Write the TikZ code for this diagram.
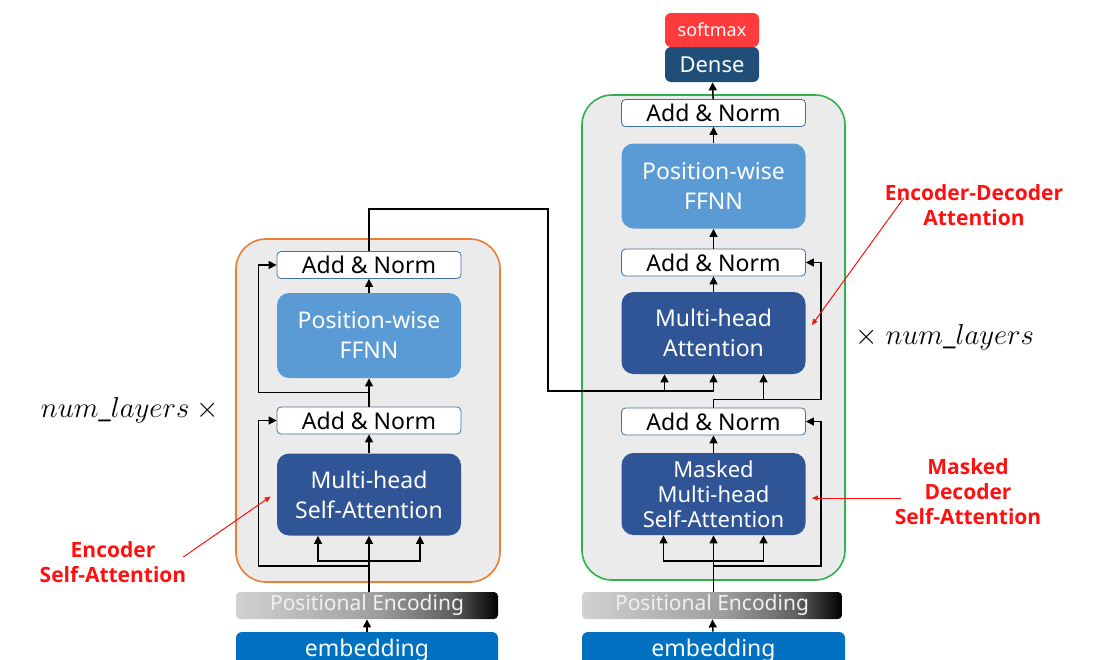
\documentclass[tikz,border=0pt]{standalone}
\usepackage{fontspec}
\setmainfont{Noto Sans}
\newfontfamily\notefont{Open Sans}
\usepackage{tikz}
\usetikzlibrary{arrows.meta,calc}
\definecolor{layergray}{HTML}{EBEBEB}
\definecolor{encorange}{HTML}{ED7D31}
\definecolor{decgreen}{HTML}{2EB24E}
\definecolor{normedge}{HTML}{41719C}
\definecolor{ffnnblue}{HTML}{5B9BD5}
\definecolor{attnblue}{HTML}{2F5597}
\definecolor{denseblue}{HTML}{1F4E79}
\definecolor{softred}{HTML}{FF3B3B}
\definecolor{embblue}{HTML}{0070C0}
\definecolor{notered}{HTML}{FF1010}
\pgfdeclarehorizontalshading{pegrad}{100bp}{color(0bp)=(black!18); color(25bp)=(black!18); color(52bp)=(black!38); color(66bp)=(black!62); color(75bp)=(black); color(100bp)=(black)}

\begin{document}
\begin{tikzpicture}[x=0.5pt, y=-0.5pt, >={Triangle[length=4pt,width=4pt]}]
\tikzstyle{layerbox}=[rounded corners=15pt, fill=layergray, line width=0.8pt, inner sep=0pt]
\tikzstyle{addnorm}=[draw=normedge, fill=white, rounded corners=2pt, minimum width=92pt, minimum height=13.5pt, inner sep=0pt, font=\fontsize{11.5}{13}\selectfont]
\tikzstyle{ffnn}=[fill=ffnnblue, text=white, rounded corners=6pt, minimum width=92pt, minimum height=42.5pt, inner sep=0pt, align=center, font=\fontsize{11.5}{15}\selectfont]
\tikzstyle{attn}=[ffnn, fill=attnblue, minimum height=41pt]
\tikzstyle{posenc}=[shading=pegrad, text=white!94!black, rounded corners=2pt, minimum height=13.5pt, inner sep=0pt, font=\fontsize{10.5}{12}\selectfont]
\tikzstyle{embed}=[fill=embblue, text=white, rounded corners=3pt, minimum height=19pt, inner sep=0pt, font=\fontsize{11.5}{13}\selectfont]
\tikzstyle{flow}=[->, line width=0.75pt]
\tikzstyle{note}=[text=notered, font=\notefont\bfseries\fontsize{10.5}{12.5}\selectfont, align=center]
\tikzstyle{pointer}=[-{Triangle[length=3pt,width=2.5pt]}, draw=notered, line width=0.5pt]
\clip (0,0) rectangle (1096,659);

% encoder
\node[layerbox, draw=encorange, minimum width=132pt, minimum height=171.5pt] (enc) at (368,410.5) {};
\node[addnorm] (encan2) at (369,265) {Add \& Norm};
\node[ffnn] (encffnn) at (369,335.5) {Position-wise\\FFNN};
\node[addnorm] (encan1) at (369,420.5) {Add \& Norm};
\node[attn] (encmha) at (369,494.5) {Multi-head\\Self-Attention};
\node[posenc, minimum width=131pt] (encpe) at (367,605.5) {Positional Encoding};
\node[embed, minimum width=131pt] (encemb) at (367,651) {embedding};

% decoder
\node[layerbox, draw=decgreen, minimum width=131.5pt, minimum height=242.5pt] (dec) at (713.5,337.5) {};
\node[addnorm] (decan3) at (713.5,113) {Add \& Norm};
\node[ffnn] (decffnn) at (713.5,186) {Position-wise\\FFNN};
\node[addnorm] (decan2) at (713.5,262.5) {Add \& Norm};
\node[attn] (decmha) at (713.5,333) {Multi-head\\Attention};
\node[addnorm] (decan1) at (713.5,421.5) {Add \& Norm};
\node[attn, font=\fontsize{11}{12.5}\selectfont] (decmmha) at (713.5,494) {Masked\\Multi-head\\Self-Attention};
\node[posenc, minimum width=130pt] (decpe) at (712,605.5) {Positional Encoding};
\node[embed, minimum width=131.5pt] (decemb) at (713.5,651) {embedding};
\node[fill=denseblue, text=white, rounded corners=3pt, minimum width=47pt, minimum height=17.5pt, inner sep=0pt, font=\fontsize{11}{13}\selectfont] (dense) at (712,64.5) {Dense};
\node[fill=softred, text=white, rounded corners=3pt, minimum width=47pt, minimum height=17pt, inner sep=0pt, font=\fontsize{9}{11}\selectfont] (softmax) at (712,30) {softmax};

% encoder connections
\coordinate (es) at (369,561);
\draw[flow] (encemb) -- (encpe);
\draw[flow] (encmha.south |- encpe.north) -- (encmha.south);
\draw[flow] (es) -| ($(encmha.south)+(-51,0)$);
\draw[flow] (es) -| ($(encmha.south)+(51,0)$);
\draw[flow] ($(es)+(0,5)$) -| ($(encan1.west)+(-18,0)$) -- (encan1.west);
\draw[flow] (encmha) -- (encan1);
\draw[flow] (encan1) -- (encffnn);
\draw[flow] ($(encan1.north)+(0,-14)$) -| ($(encan2.west)+(-18,0)$) -- (encan2.west);
\draw[flow] (encffnn) -- (encan2);

% encoder output into decoder
\coordinate (bend1) at (548,209);
\coordinate (bend2) at (548,391);
\draw[flow] (encan2.north) |- (bend1) -- (bend2) -| (decmha.south);
\draw[flow] ($(bend2 -| decmha.south)+(-49,0)$) -- ($(decmha.south)+(-49,0)$);

% decoder connections
\coordinate (ds) at (713.5,561);
\coordinate (dq) at ($(decan1.north)+(0,-8)$);
\draw[flow] (decemb) -- (decpe);
\draw[flow] (decmmha.south |- decpe.north) -- (decmmha.south);
\draw[flow] (ds) -| ($(decmmha.south)+(-50,0)$);
\draw[flow] (ds) -| ($(decmmha.south)+(50,0)$);
\draw[flow] ($(ds)+(0,5)$) -| ($(decan1.east)+(15,0)$) -- (decan1.east);
\draw[flow] (decmmha) -- (decan1);
\draw[flow] (decan1.north) -- (dq) -| ($(decmha.south)+(50,0)$);
\draw[flow] (dq) -| ($(decan2.east)+(15,0)$) -- (decan2.east);
\draw[flow] (decmha) -- (decan2);
\draw[flow] (decan2) -- (decffnn);
\draw[flow] (decffnn) -- (decan3);
\draw[flow] (decan3) -- (dense);

% labels
\node[font=\fontsize{14}{16}\selectfont] (encn) at (130,410) {$num\_layers\ \times$};
\node[font=\fontsize{14}{16}\selectfont] (decn) at (945,337) {$\times\ num\_layers$};
\node[note] (encsa) at (113,562) {Encoder\\Self-Attention};
\node[note] (edatt) at (974,205) {Encoder-Decoder\\Attention};
\node[note] (mdsa) at (968,492) {Masked\\Decoder\\Self-Attention};
\draw[pointer] ($(encsa.east)+(-10,-5)$) -- ($(encmha.west)+(-6,2)$);
\draw[pointer] ($(edatt.west)+(26,-7)$) -- ($(decmha.east)+(6,-8)$);
\draw[pointer] ($(mdsa.west)+(13,6)$) -- ($(decmmha.east)+(6,4)$);
\end{tikzpicture}
\end{document}
